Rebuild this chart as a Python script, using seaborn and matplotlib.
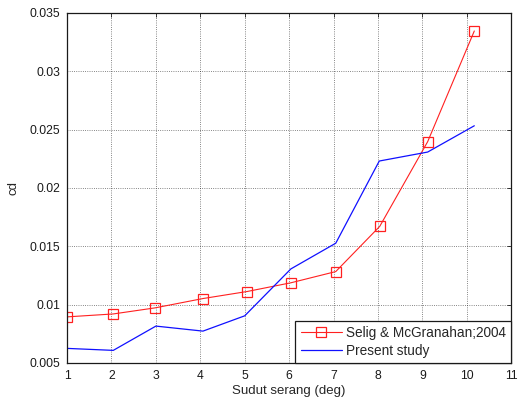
import matplotlib
matplotlib.use("Agg")
import matplotlib.pyplot as plt
import matplotlib.ticker as mticker
import seaborn as sns
import pandas as pd

# Data
selig_x = [1.0, 2.04, 2.98, 4.06, 5.05, 6.04, 7.05, 8.04, 9.12, 10.17]
selig_cd = [0.00895, 0.0092, 0.00972, 0.01052, 0.01112, 0.01187, 0.01283, 0.0167, 0.02396, 0.03344]
present_x = [1.0, 2.04, 3.0, 4.06, 5.0, 6.04, 7.05, 8.03, 9.12, 10.17]
present_cd = [0.00625, 0.00608, 0.00816, 0.00773, 0.00904, 0.01306, 0.01526, 0.0223, 0.02307, 0.02532]
x_ticks = [1, 2, 3, 4, 5, 6, 7, 8, 9, 10, 11]
y_ticks = [0.005, 0.01, 0.015, 0.02, 0.025, 0.03, 0.035]
labels = ["Selig & McGranahan;2004", "Present study"]

sns.set_theme(style="white")
plt.rcParams['font.family'] = ['Liberation Sans', 'DejaVu Sans']

fig = plt.figure(figsize=(5.2, 4.03), dpi=100)
ax = fig.add_axes([0.129, 0.0993, 0.854, 0.869])

df1 = pd.DataFrame({"x": selig_x, "cd": selig_cd})
df2 = pd.DataFrame({"x": present_x, "cd": present_cd})
sns.lineplot(data=df1, x="x", y="cd", ax=ax, color="#ff2020", lw=0.8,
             marker="s", markersize=7.5, markerfacecolor="none",
             markeredgecolor="#ff2020", markeredgewidth=0.9, label=labels[0])
sns.lineplot(data=df2, x="x", y="cd", ax=ax, color="#1010ff", lw=0.9,
             label=labels[1])

ax.set_xlim(1, 11)
ax.set_ylim(0.005, 0.035)
ax.set_xticks(x_ticks)
ax.set_yticks(y_ticks)
ax.yaxis.set_major_formatter(mticker.FuncFormatter(lambda v, p: "%g" % round(v, 4)))
ax.grid(True, color="k", linestyle=":", linewidth=0.6, alpha=0.7)
ax.tick_params(direction="in", length=3, width=0.6, top=True, right=True,
               labelsize=8.7, colors="k", pad=5)
for s in ax.spines.values():
    s.set_color("k")
    s.set_linewidth(0.9)
ax.set_xlabel("Sudut serang (deg)", fontsize=9.5, labelpad=2)
ax.set_ylabel("cd", fontsize=9.5, labelpad=7)

leg = ax.legend(loc="lower right", borderaxespad=0, fancybox=False,
                frameon=True, fontsize=9.8, handlelength=3.0,
                handletextpad=0.3, borderpad=0.4, labelspacing=0.25)
leg.get_frame().set_edgecolor("k")
leg.get_frame().set_linewidth(0.9)
leg.get_frame().set_alpha(1)

fig.savefig("out.png", dpi=100, facecolor="white")
